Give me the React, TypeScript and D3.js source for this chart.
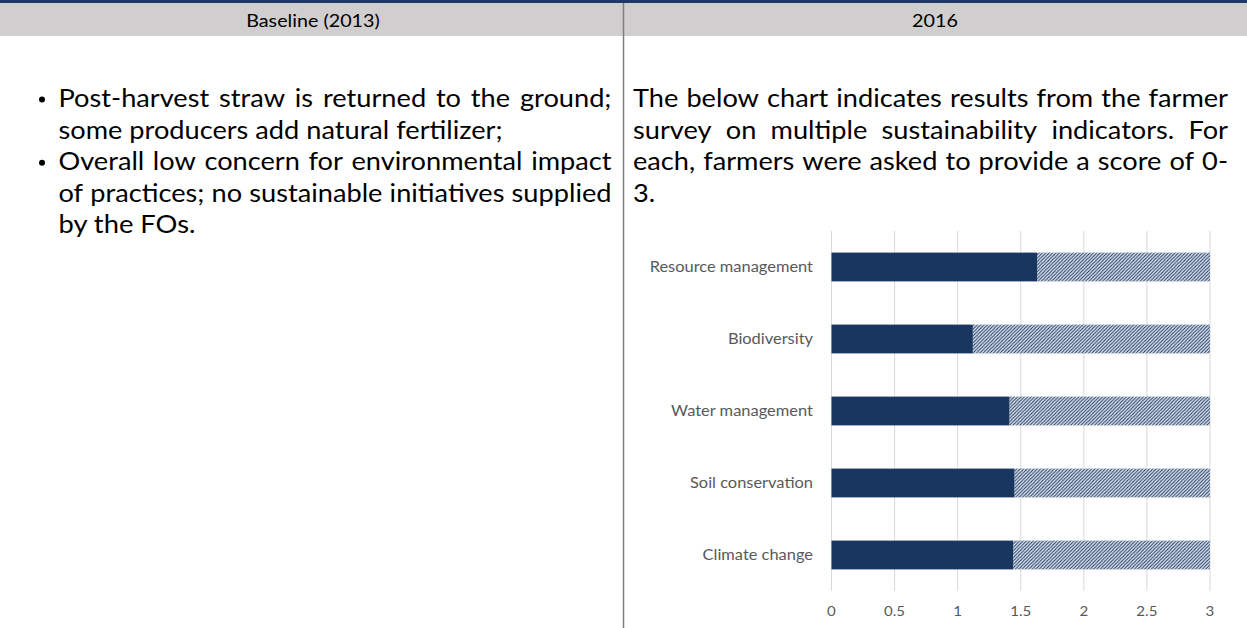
import React from "react";
import * as d3 from "d3";

// ---------- data ----------
const categories = [
  "Resource management",
  "Biodiversity",
  "Water management",
  "Soil conservation",
  "Climate change",
];
const scores = [1.63, 1.12, 1.41, 1.45, 1.44];
const maxScore = 3;
const xTicks = [0, 0.5, 1, 1.5, 2, 2.5, 3];
const xTickLabels = ["0", "0.5", "1", "1.5", "2", "2.5", "3"];
const headers = ["Baseline (2013)", "2016"];
const leftLines = [
  { text: "Post-harvest straw is returned to the ground;", justify: true, bullet: true },
  { text: "some producers add natural fertilizer;", justify: false, bullet: false },
  { text: "Overall low concern for environmental impact", justify: true, bullet: true },
  { text: "of practices; no sustainable initiatives supplied", justify: true, bullet: false },
  { text: "by the FOs.", justify: false, bullet: false },
];
const rightLines = [
  { text: "The below chart indicates results from the farmer", justify: true },
  { text: "survey on multiple sustainability indicators. For", justify: true },
  { text: "each, farmers were asked to provide a score of 0-", justify: true },
  { text: "3.", justify: false },
];

// ---------- layout ----------
const W = 1247;
const H = 628;
const FONT = "Lato, 'Noto Sans', sans-serif";
const BODY = 24.5;
const HEAD = 17.8;
const LABEL = 14.8;
const TICK = 13.6;
const NAVY = "#18365F";

let ctx: CanvasRenderingContext2D | null = null;
function measure(text: string, size: number): number {
  if (!ctx) ctx = document.createElement("canvas").getContext("2d");
  if (!ctx) return text.length * size * 0.5;
  ctx.font = `${size}px Lato`;
  return ctx.measureText(text).width;
}
// horizontal squeeze so the font matches the narrow original face
const REF_LINE = "of practices; no sustainable initiatives supplied";
function getSX() {
  return 552 / measure(REF_LINE, BODY);
}

function T(props: {
  x: number;
  y: number;
  size: number;
  anchor?: string;
  fill?: string;
  text: string;
  sx: number;
}) {
  const { x, y, size, anchor = "start", fill = "#000", text, sx } = props;
  const w = measure(text, size) * sx;
  return (
    <text
      x={x}
      y={y}
      fontSize={size}
      fontFamily={FONT}
      textAnchor={anchor as any}
      fill={fill}
      textLength={w}
      lengthAdjust="spacingAndGlyphs"
    >
      {text}
    </text>
  );
}

function Line(props: {
  text: string;
  x0: number;
  x1: number;
  y: number;
  justify: boolean;
  sx: number;
}) {
  const { text, x0, x1, y, justify, sx } = props;
  if (!justify) {
    return <T x={x0} y={y} size={BODY} text={text} sx={sx} />;
  }
  const words = text.split(" ");
  const widths = words.map((w) => measure(w, BODY) * sx);
  const total = d3.sum(widths);
  const gap = (x1 - x0 - total) / (words.length - 1);
  let cur = x0;
  return (
    <g>
      {words.map((w, i) => {
        const xi = cur;
        cur += widths[i] + gap;
        return (
          <text
            key={i}
            x={xi}
            y={y}
            fontSize={BODY}
            fontFamily={FONT}
            fill="#000"
            textLength={widths[i]}
            lengthAdjust="spacingAndGlyphs"
          >
            {w}
          </text>
        );
      })}
    </g>
  );
}

export default function App() {
  const sx = getSX();

  const x = d3.scaleLinear().domain([0, maxScore]).range([831.5, 1210]);
  const y = d3
    .scaleBand<string>()
    .domain(categories)
    .range([231, 591])
    .paddingInner(0.6)
    .paddingOuter(0.3);

  const lineStep = 31.6;
  const firstBaseline = 107;

  return (
    <svg
      width={W}
      height={H}
      viewBox={`0 0 ${W} ${H}`}
      style={{ position: "absolute", left: 0, top: 0, display: "block", background: "#fff" }}
    >
      <defs>
        <pattern id="hatch" patternUnits="userSpaceOnUse" width={3.4} height={3.4}>
          <rect width={3.4} height={3.4} fill="#E2E7EF" />
          <path
            d="M-0.85,0.85 l1.7,-1.7 M0,3.4 l3.4,-3.4 M2.55,4.25 l1.7,-1.7"
            stroke={NAVY}
            strokeWidth={1.05}
          />
        </pattern>
      </defs>
      <rect x={0} y={0} width={W} height={H} fill="#fff" />

      {/* header */}
      <rect x={0} y={0} width={W} height={3} fill="#1F3864" />
      <rect x={0} y={3} width={W} height={33} fill="#D0CECE" />
      <T x={313} y={26.5} size={HEAD} anchor="middle" text={headers[0]} sx={sx} />
      <T x={935} y={26.5} size={HEAD} anchor="middle" text={headers[1]} sx={sx} />
      <line x1={623.5} x2={623.5} y1={3} y2={H} stroke="#7F7F7F" strokeWidth={1.5} />

      {/* left column */}
      {leftLines.map((l, i) => {
        const by = firstBaseline + i * lineStep;
        return (
          <g key={i}>
            {l.bullet && <circle cx={42} cy={by - 7.5} r={3} fill="#000" />}
            <Line text={l.text} x0={58.5} x1={611.5} y={by} justify={l.justify} sx={sx} />
          </g>
        );
      })}

      {/* right column */}
      {rightLines.map((l, i) => (
        <Line
          key={i}
          text={l.text}
          x0={633}
          x1={1228}
          y={firstBaseline + i * lineStep}
          justify={l.justify}
          sx={sx}
        />
      ))}

      {/* chart gridlines */}
      {xTicks.map((t, i) => (
        <line
          key={i}
          x1={x(t)}
          x2={x(t)}
          y1={231}
          y2={591}
          stroke="#D9D9D9"
          strokeWidth={1}
        />
      ))}

      {/* bars */}
      {categories.map((c, i) => (
        <g key={c}>
          <rect
            x={x(scores[i])}
            y={y(c)!}
            width={x(maxScore) - x(scores[i])}
            height={y.bandwidth()}
            fill="url(#hatch)"
          />
          <rect
            x={x(0)}
            y={y(c)!}
            width={x(scores[i]) - x(0)}
            height={y.bandwidth()}
            fill={NAVY}
          />
          <T
            x={813}
            y={y(c)! + y.bandwidth() / 2 + 5.2}
            size={LABEL}
            anchor="end"
            fill="#595959"
            text={c}
            sx={sx}
          />
        </g>
      ))}

      {/* x tick labels */}
      {xTicks.map((t, i) => (
        <T
          key={i}
          x={x(t)}
          y={616}
          size={TICK}
          anchor="middle"
          fill="#595959"
          text={xTickLabels[i]}
          sx={sx}
        />
      ))}
    </svg>
  );
}
